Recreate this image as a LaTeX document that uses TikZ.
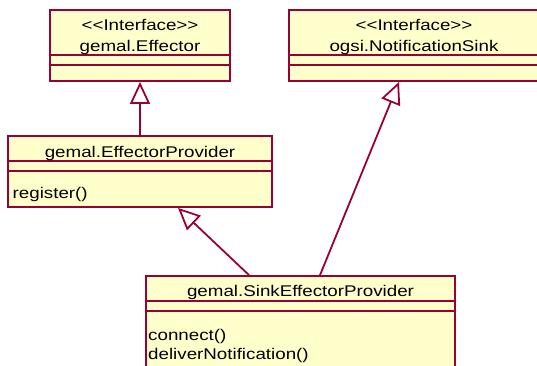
\documentclass[tikz,border=0pt]{standalone}
\usepackage{fontspec}
\setmainfont{Liberation Sans}
\newfontfamily\umlfont[FakeStretch=1.21]{Liberation Sans}
\usetikzlibrary{arrows.meta}
\definecolor{umlline}{RGB}{153,0,51}
\definecolor{umlfill}{RGB}{255,255,204}
\begin{document}
\begin{tikzpicture}[x=1pt,y=-1pt,
  classbox/.style={draw=umlline, fill=umlfill, line width=1.8pt, inner sep=0pt},
  divider/.style={draw=umlline, line width=1.8pt},
  umltext/.style={inner sep=0pt, font=\umlfont\fontsize{15.5}{19}\selectfont, text=black},
  inherits/.style={draw=umlline, line width=1.8pt,
    -{Triangle[open, length=22pt, width=20pt, line width=1.8pt]}}
]
\useasboundingbox (0,0) rectangle (537,365);

% class boxes
\node[classbox, minimum width=180pt, minimum height=71pt] (eff)   at (140,45.5) {};
\node[classbox, minimum width=250pt, minimum height=71pt] (sink)  at (414,45.5) {};
\node[classbox, minimum width=264pt, minimum height=71pt] (prov)  at (140,171.5) {};
\node[classbox, minimum width=309pt, minimum height=100pt] (sep)  at (300.5,326) {};

% compartment dividers
\foreach \b/\a/\c in {eff/46/56, sink/46/56, prov/26/36, sep/26/36}{
  \draw[divider] ([yshift=-\a pt]\b.north west) -- ([yshift=-\a pt]\b.north east);
  \draw[divider] ([yshift=-\c pt]\b.north west) -- ([yshift=-\c pt]\b.north east);
}

% names and operations
\node[umltext, anchor=base] (effst)  at (140,30) {<{}<Interface>{}>};
\node[umltext, anchor=base] (effnm)  at (140,51) {gemal.Effector};
\node[umltext, anchor=base] (sinkst) at (414,30) {<{}<Interface>{}>};
\node[umltext, anchor=base] (sinknm) at (414,51) {ogsi.NotificationSink};
\node[umltext, anchor=base] (provnm) at (140,157) {gemal.EffectorProvider};
\node[umltext, anchor=base west] (provop) at (12.5,198) {register()};
\node[umltext, anchor=base] (sepnm)  at (300.5,296) {gemal.SinkEffectorProvider};
\node[umltext, anchor=base west] (sepop1) at (148,340) {connect()};
\node[umltext, anchor=base west] (sepop2) at (148,359) {deliverNotification()};

% generalisations
\draw[inherits] (prov.north) -- (eff.south);
\draw[inherits] ([xshift=-51.5pt]sep.north) -- ([xshift=38pt]prov.south);
\draw[inherits] ([xshift=19.5pt]sep.north) -- ([xshift=-15pt]sink.south);
\end{tikzpicture}
\end{document}
